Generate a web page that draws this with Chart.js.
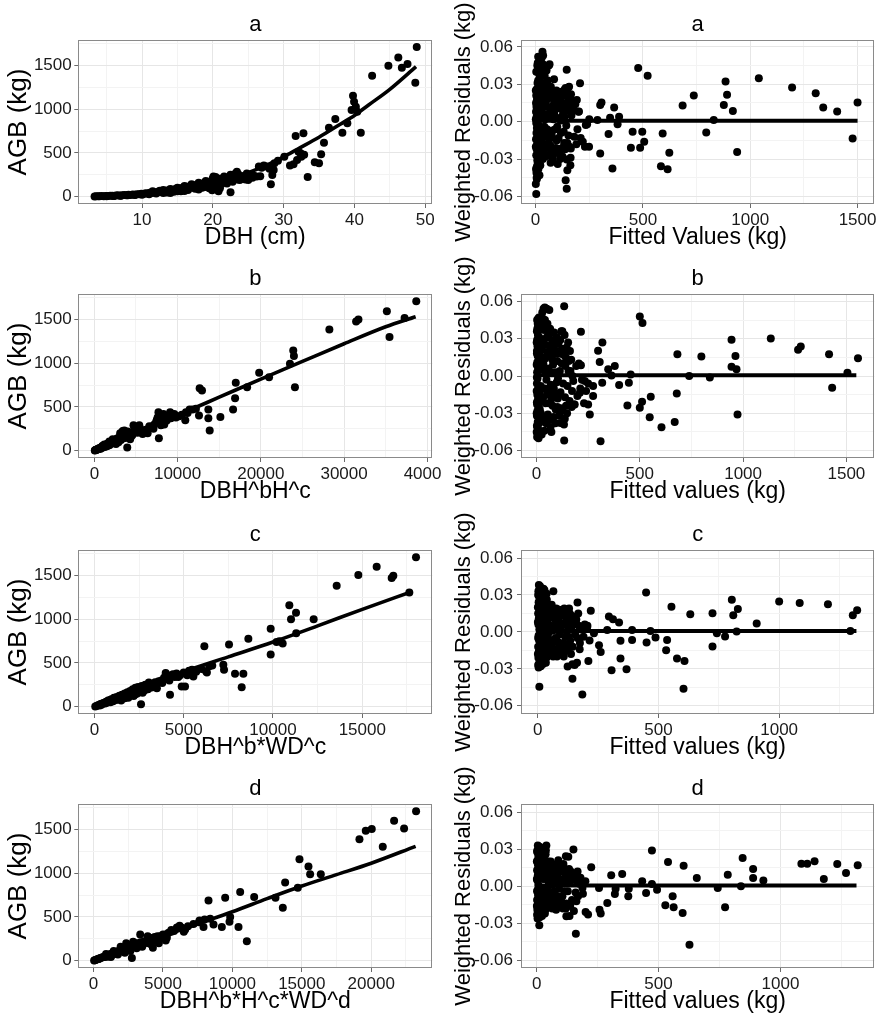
<!DOCTYPE html>
<html>
<head>
<meta charset="utf-8">
<script src="https://cdn.jsdelivr.net/npm/chart.js@4.4.1/dist/chart.umd.min.js"></script>
<style>
html,body{margin:0;padding:0;background:#fff;}
body{width:883px;height:1024px;position:relative;overflow:hidden;}
canvas{position:absolute;}
</style>
</head>
<body>
<script>
// ---------------- DATA ----------------
const panelTitles = ['a', 'b', 'c', 'd'];
const leftXTitles = ['DBH (cm)', 'DBH^bH^c', 'DBH^b*WD^c', 'DBH^b*H^c*WD^d'];
const rightXTitles = ['Fitted Values (kg)', 'Fitted values (kg)', 'Fitted values (kg)', 'Fitted values (kg)'];
const leftYTitle = 'AGB (kg)';
const rightYTitle = 'Weighted Residuals (kg)';

// Panel a (left): DBH (cm) vs AGB (kg)
const aObs = [
  [48.8,1714],[46.2,1595],[44.8,1500],[47.5,1519],[46.7,1477],[48.6,1305],[42.5,1385],[39.8,1156],[39.95,1088],[40.2,1030],
  [39.6,992],[40.4,973],[40.9,733],[37.3,889],[36.4,790],[38.3,733],[39.0,840],[35.7,618],[35.3,485],[34.4,393],
  [35.0,382],[33.4,225],[32.8,725],[31.7,695],[32.4,496],[31.9,420],[30.9,355],[32.5,458],[28.6,305],[28.4,248],
  [28.2,141],[28.7,382],[27.2,355],[26.7,233],[26.5,344],[29.2,412],[30.1,458],[22.5,50],[23.4,286],[20.1,229],
  [31.4,372],[32.1,515],[32.9,480],[26.9,330],[27.6,345],[28.0,320],[25.8,240],[25.2,225],[24.6,195],[24.0,210],[23.8,190],
  [3.3,2],[3.5,4],[3.8,3],[4.0,5],[4.3,6],[4.6,5],[4.9,8],[5.2,7],[5.5,9],[5.8,11],[6.0,8],[6.3,12],[6.6,14],[6.9,11],
  [7.2,16],[7.5,18],[7.8,15],[8.1,21],[8.4,19],[8.7,25],[9.0,22],[9.3,28],[9.6,26],[9.9,33],[10.2,30],[10.5,38],[10.8,35],
  [11.1,44],[11.4,40],[11.7,50],[12.0,46],[12.3,56],[12.6,52],[12.9,62],[13.2,58],[13.5,70],[13.8,64],[14.1,78],[14.4,72],
  [14.7,86],[15.0,60],[15.2,95],[15.5,82],[15.8,104],[16.1,90],[16.4,112],[16.7,98],[17.0,122],[17.3,105],[17.6,132],
  [17.9,115],[18.2,145],[18.5,125],[18.8,158],[19.1,135],[19.4,170],[19.7,148],[20.0,185],[20.3,160],[20.6,200],[20.9,175],
  [21.2,140],[21.5,190],[21.8,215],[22.1,180],[22.4,228],[22.7,200],[23.0,240],[23.3,215],[23.6,255],[24.2,230],[24.8,265],
  [25.4,250],[19.5,95],[20.5,110],[18.0,80],[16.0,65],[14.0,40],[20.8,60],[21.0,95],[19.9,72],
  [10.0,20],[11.0,28],[12.0,35],[13.0,40],[13.5,48],[14.5,55],[15.5,62],[16.5,75],[17.5,90],[18.5,100],[19.0,110],[19.8,120],
  [20.2,135],[20.7,150],[21.3,165],[21.7,170],[22.0,150],[22.8,170],[23.5,195],[24.4,205],[25.0,190],[25.6,215],[26.2,230],
  [11.5,60],[12.5,68],[13.0,75],[14.0,88],[15.0,100],[16.0,120],[17.0,140],[18.0,160],[19.0,180],[20.0,210],[20.4,225],
  [21.0,205],[21.6,230],[22.5,250],[23.2,265],[24.5,240],[7,10],[8,14],[9,18],[6,6],[5,5]
];
const aFit = [[3.3,2],[5,6],[8,18],[10,32],[12,50],[15,85],[18,130],[20,165],[22,205],[25,275],[28,375],[30,455],[32,545],[35,680],[38,830],[40,930],[42,1050],[45,1230],[48.7,1490]];

// Panel b (left): DBH^bH^c vs AGB
const bObs = [
  [38674,1711],[35140,1596],[37270,1519],[31726,1504],[31445,1481],[35460,1301],[28233,1389],[23895,1148],[23975,1083],[23500,995],
  [24096,727],[20990,842],[19800,892],[18353,727],[16988,777],[16907,601],[16666,471],[12650,716],[12930,689],[12570,402],
  [13694,471],[13694,371],[13855,230],[15140,386],[10923,348],[11445,471],[9437,402],[7750,142],[3950,35],
  [7430,330],[7600,380],[7800,410],[8100,360],[8400,300],[9000,385],[9600,420],[10200,395],[11200,430],[6000,230],[6500,250],
  [5400,290],[5000,270],[4800,250],[4400,200],[4200,165],[3900,180],[3600,215],[3400,190],[3300,150],[3000,120],[2700,135],
  [2500,110],[2200,95],[2000,80],[1800,105],[1600,70],[1400,60],[1200,55],[1000,40],[800,35],[600,25],[400,15],[250,10],
  [100,3],[150,6],[350,12],[700,30],[900,45],[1100,48],[1300,65],[1500,75],[1700,62],[1900,90],[2100,110],[2300,85],
  [2600,100],[2800,115],[3100,140],[3200,175],[3500,160],[3700,145],[3800,200],[4300,130],[4600,185],[5200,205],[5600,215],
  [5800,190],[6200,240],[6800,260],[7000,280],[7200,300],[7900,320],[8700,345],[9200,370],[9800,380],[10500,410],[11000,440],
  [11800,470],[12200,480],[50,1],[200,8],[450,20],[550,18],[650,28],[750,22],[850,38],[950,33],[1050,52],[1250,42],[1450,68],
  [1650,85],[1850,72],[2400,120],[2900,95],[3300,205],[4000,220],[4500,170],[5500,250],[6400,200],[7500,350],[8000,290],
  [500,25],[1000,55],[1500,50],[2000,100],[2500,90],[3000,150],[3500,190],[4000,170],[3200,120],[2800,140],[3600,230],
  [3400,225],[3800,165],[4800,220],[5300,230],[6600,280],[7100,250],[1200,70],[1800,60],[2200,130],[2600,75],[3100,200],
  [3700,175],[4200,200],[4700,290],[7700,440],[8300,420],[9100,440]
];
const bFit = [[0,0],[2000,85],[5000,205],[10000,405],[15000,612],[20000,820],[25000,1022],[30000,1225],[35000,1420],[38600,1535]];

// Panel c (left): DBH^b*WD^c vs AGB
const cObs = [
  [18007,1712],[15805,1604],[14779,1508],[16738,1500],[16645,1473],[17634,1308],[13566,1385],[10916,1162],[11290,1077],[11010,1000],
  [12278,1000],[9871,892],[9871,596],[10356,750],[10543,723],[8621,777],[7539,712],[6158,692],[7221,481],[7259,423],
  [7875,377],[8341,377],[8248,223],[6251,404],[6438,462],[5542,346],[5467,423],[4889,231],[5076,231],[4273,346],
  [4235,135],[2612,27],[3993,385],[11300,840],[10200,740],
  [50,2],[120,8],[200,15],[280,20],[350,30],[420,33],[500,42],[580,45],[650,55],[720,60],[800,72],[880,68],[950,85],
  [1020,80],[1100,100],[1180,92],[1250,110],[1330,105],[1400,125],[1480,118],[1550,135],[1620,110],[1700,150],[1780,140],
  [1850,165],[1920,130],[2000,180],[2080,160],[2150,200],[2230,175],[2300,215],[2380,190],[2450,225],[2550,200],[2650,235],
  [2750,215],[2850,250],[2950,230],[3050,275],[3150,250],[3300,260],[3450,240],[3600,290],[3750,300],[3900,330],[4100,360],
  [4400,370],[4600,380],[4700,340],[5200,360],[5300,410],[5700,400],[6000,430],[6300,390],[6600,470],[900,50],[1300,80],
  [1700,95],[2100,130],[2500,180],[1500,70],[2200,120],[600,35],[300,12],[700,45],[1050,62],[1900,100],[2700,160],
  [3000,200],[3500,210],
  [400,20],[800,55],[1200,75],[1600,100],[2000,140],[2400,150],[2800,185],[3200,220],[1400,90],[1800,120],[2200,160],
  [2600,195],[3000,240],[3400,280],[3800,270],[4200,300],[4500,340],[4800,360],[5000,390],[5500,380],[1000,70],[1600,130],
  [2300,140],[2900,210]
];
const cFit = [[0,0],[1000,90],[2500,210],[5000,400],[7500,570],[10000,740],[12500,925],[15000,1115],[17800,1320]];

// Panel d (left): DBH^b*H^c*WD^d vs AGB
const dObs = [
  [23232,1711],[21648,1603],[22368,1515],[20040,1507],[19608,1488],[19152,1392],[20832,1304],[14832,1162],[15480,1078],[15600,990],
  [16368,990],[13800,894],[13632,606],[13104,721],[14712,836],[11568,729],[10560,786],[9480,721],[8280,690],[9840,499],
  [9792,445],[9240,384],[10440,384],[11040,222],[8640,414],[7920,384],[7632,460],[6600,357],[6360,376],[5280,261],
  [4272,146],[2760,31],[3360,299],
  [40,1],[100,5],[180,9],[260,14],[340,18],[420,25],[500,30],[600,34],[700,42],[800,48],[900,52],[1000,60],[1100,66],
  [1200,72],[1300,78],[1400,83],[1500,90],[1600,85],[1700,102],[1800,95],[1900,115],[2000,108],[2100,130],[2200,120],
  [2300,145],[2400,135],[2500,160],[2600,150],[2700,175],[2800,165],[2900,190],[3000,180],[3200,200],[3400,210],[3600,190],
  [3800,230],[4000,250],[4200,220],[4400,270],[4600,240],[4800,255],[5000,300],[5400,320],[5600,350],[5800,340],[6000,380],
  [6200,400],[6500,330],[6800,395],[7200,420],[7600,440],[8000,470],[8400,480],[1250,40],[1750,70],[2250,90],[2650,110],
  [3100,140],[3500,160],[3900,280],[4100,190],[4700,200],[5200,230],[900,75],[1450,110],[1950,160],[2350,200],[2850,215],
  [400,20],[800,40],[1200,60],[1600,95],[2000,125],[2400,150],[2800,180],[3200,170],[3600,215],[4000,200],[4400,230],
  [4800,280],[5200,300],[5600,330],[1000,45],[1400,70],[1800,110],[2200,135],[2600,120],[3000,200],[3400,190],[3800,210],
  [4200,260],[4600,280]
];
const dFit = [[0,0],[1000,62],[2500,145],[5000,280],[7500,420],[10000,560],[12500,710],[15000,855],[17500,985],[20000,1116],[23200,1310]];

// Panel a (right): fitted values vs weighted residuals
const aRes = [
  [478,0.043],[522,0.0368],[685,0.0129],[737,0.0209],[885,0.0322],[877,0.0134],[892,0.0215],[919,0.0086],[1040,0.0349],[1195,0.0274],
  [1305,0.0228],[1340,0.0113],[1405,0.0081],[1500,0.0153],[1477,-0.0134],[830,0.0013],[795,-0.0086],[939,-0.0244],[623,-0.025],[615,-0.0381],
  [584,-0.0357],[592,-0.0094],[497,-0.0081],[506,-0.0161],[487,-0.0209],[452,-0.0081],[444,-0.0209],[358,-0.0376],[301,-0.0255],[340,-0.0099],
  [366,0.0113],[347,0.0032],[389,0.004],[382,-0.0021],[301,0.0134],[307,0.0153],[288,0.0013],[234,-0.0027],[249,-0.0201],[207,0.0309],
  [202,0.0081],[192,0.0174],[145,0.0416],[140,-0.047],[145,-0.0537],[148,-0.0389],[145,-0.0303],[164,-0.0215],
  [3,-0.058],[5,-0.045],[4,-0.041],[6,-0.036],[8,-0.031],[3,-0.027],[5,-0.022],[7,-0.018],[2,-0.014],[4,-0.009],[6,-0.005],
  [3,-0.001],[5,0.004],[7,0.008],[4,0.012],[6,0.017],[3,0.021],[5,0.026],[8,0.019],[9,-0.012],[10,0.047],[12,0.033],[14,0.041],
  [11,-0.024],[13,-0.038],[15,0.009],[16,-0.003],[18,0.029],[20,0.048],[22,0.036],[19,-0.016],[24,0.022],[26,0.044],[28,0.051],
  [30,0.038],[25,-0.029],[32,0.056],[35,0.053],[34,0.046],[37,0.031],[40,0.027],[38,0.013],[42,0.037],[45,0.024],[33,-0.008],
  [36,-0.019],[41,-0.004],[44,0.002],[48,-0.012],[50,0.017],[52,0.006],[55,0.021],[58,-0.027],[60,-0.021],[62,0.045],[65,0.046],
  [68,0.008],[70,-0.033],[72,0.019],[75,-0.011],[78,0.024],[80,-0.03],[83,0.002],[85,0.014],[88,-0.024],[90,0.022],[92,-0.006],
  [95,0.016],[98,-0.015],[100,0.023],[103,-0.034],[106,0.011],[110,0.003],[112,-0.026],[115,0.018],[118,-0.009],[120,0.024],
  [124,-0.021],[126,0.005],[130,0.021],[133,-0.017],[136,0.026],[140,0.027],[143,-0.003],[146,0.009],[150,0.023],[153,-0.011],
  [156,0.028],[160,0.012],[163,-0.029],[167,0.005],[170,0.017],[175,0.009],[180,-0.012],[185,0.014],[190,-0.018],[195,-0.006],
  [200,0.008],[210,-0.013],[220,-0.016],[230,-0.02],[240,-0.002],[250,0.002],[18,-0.043],[22,-0.035],[27,0.012],[46,-0.028],
  [57,0.033],[64,-0.014],[86,0.034],[108,-0.022],[12,0.052],[16,0.026],[29,-0.02],[1,0.002],[2,0.015],[9,0.031],[7,-0.04],[6,-0.046],
  [1,-0.05],[2,-0.038],[1,-0.02],[2,0.008],[1,0.025],[3,0.04],[8,0.045],[10,-0.033],[11,0.014],[13,0.02],[14,-0.007],[15,-0.028],
  [17,0.038],[19,0.005],[20,-0.035],[21,0.016],[23,-0.01],[24,0.044],[26,-0.02],[27,0.03],[29,0.009],[31,-0.013],[32,0.02],
  [34,-0.03],[36,0.039],[38,-0.025],[39,0.004],[43,0.015],[47,0.03],[49,-0.018],[51,0.041],[53,-0.006],[56,0.012],[59,0.026],
  [61,-0.01],[63,0.003],[66,0.02],[69,-0.019],[71,0.028],[73,-0.024],[76,0.009],[79,-0.007],[82,0.019],[84,-0.026],[87,0.007],
  [91,0.012],[94,-0.021],[97,0.025],[101,-0.004],[104,0.02],[107,-0.013],[111,0.015],[114,-0.03],[117,0.001],[121,0.01],
  [125,-0.028],[128,0.013],[131,-0.008],[135,0.004],[138,-0.022],[142,0.015],[148,-0.017],[152,0.019],[158,-0.02],[162,-0.035],[165,0.022]
];
const aResFit = [[8,0.0007],[1500,0.0007]];

// Panel b (right)
const bRes = [
  [1556,0.0143],[1505,0.0027],[1416,0.0175],[1431,-0.0094],[1279,0.0237],[1266,0.021],[1134,0.0301],[944,0.0291],[963,0.0161],[944,0.0075],
  [968,0.0054],[973,-0.0309],[839,-0.0013],[798,0.0156],[739,0],[682,0.0175],[679,-0.014],[669,-0.0369],[605,-0.0412],[548,-0.0331],
  [553,-0.0167],[511,-0.0207],[500,-0.0256],[500,0.0479],[513,0.0425],[440,-0.0237],[447,-0.0054],[456,0.0013],[400,-0.0073],[379,0.0081],
  [347,0.0054],[363,0.0005],[319,0.0269],[298,0.0202],[306,0.0113],[310,-0.0525],[318,-0.0054],[274,-0.0081],[274,-0.0161],[250,-0.0229],
  [258,-0.0309],[215,0.0355],[215,0.0086],[234,-0.004],[210,-0.0135],[182,-0.0229],[174,0],[134,-0.0519],[134,0.056],[137,-0.0344],
  [116,-0.0377],[124,0.0355],
  [3,-0.049],[5,-0.046],[4,-0.041],[6,-0.037],[2,-0.032],[5,-0.028],[3,-0.023],[7,-0.019],[4,-0.015],[6,-0.011],[2,-0.006],
  [5,-0.002],[3,0.003],[7,0.007],[4,0.011],[6,0.016],[2,0.02],[5,0.024],[3,0.029],[7,0.033],[4,0.038],[6,0.042],[8,0.046],
  [10,-0.05],[12,0.047],[14,0.031],[16,-0.027],[18,0.012],[20,-0.008],[22,0.044],[24,0.021],[26,-0.036],[28,0.051],[30,0.005],
  [32,-0.017],[34,0.054],[36,0.026],[38,-0.044],[40,0.055],[42,0.014],[44,-0.022],[46,0.038],[48,-0.003],[50,0.054],[52,0.019],
  [55,-0.031],[58,0.033],[60,-0.012],[62,0.053],[65,0.024],[68,-0.041],[70,0.003],[72,-0.045],[75,0.029],[78,-0.024],[80,0.009],
  [83,-0.033],[85,0.035],[88,-0.015],[90,0.018],[93,-0.027],[95,0.026],[98,-0.005],[100,0.012],[103,-0.018],[106,0.026],[110,-0.032],
  [113,0.004],[116,-0.013],[120,0.036],[123,0.022],[126,-0.028],[130,0.017],[133,-0.039],[136,0.033],[140,0.008],[143,-0.024],
  [146,0.023],[150,-0.008],[153,0.027],[156,0.012],[160,-0.02],[164,0.004],[168,0.013],[172,-0.012],[178,-0.004],[185,-0.023],
  [192,0.008],[198,-0.016],[205,0.01],[212,-0.01],[220,-0.003],[230,-0.022],[240,-0.012],[250,-0.006],
  [1,-0.045],[2,-0.04],[1,-0.03],[2,-0.021],[1,-0.012],[2,-0.001],[1,0.009],[2,0.018],[1,0.027],[2,0.036],[3,0.045],[9,0.04],
  [9,-0.043],[11,-0.025],[12,0.006],[13,-0.038],[15,0.019],[17,-0.012],[19,0.041],[21,-0.03],[23,0.028],[25,-0.047],[27,0.015],
  [29,-0.02],[31,0.046],[33,0.01],[35,-0.034],[37,0.037],[39,-0.01],[41,0.045],[43,0.003],[45,0.025],[47,-0.038],[49,0.031],
  [51,-0.015],[53,0.042],[56,0.006],[59,-0.022],[61,0.016],[63,-0.035],[66,0.038],[69,-0.007],[71,0.021],[74,-0.018],[77,0.013],
  [81,0.027],[84,-0.01],[87,0.021],[91,-0.038],[94,0.003],[97,0.031],[101,-0.025],[104,-0.002],[108,0.018],[111,-0.014],
  [115,0.029],[118,-0.026],[122,0.01],[125,0.036],[129,-0.006],[132,0.02],[138,-0.017],[142,0.015],[148,-0.03],[155,0.004],
  [162,0.02],[170,-0.025]
];
const bResFit = [[5,0.0007],[1548,0.0007]];

// Panel c (right)
const cRes = [
  [1323,0.0176],[1305,0.0136],[1295,0.0008],[1202,0.0225],[1085,0.0234],[1000,0.0247],[907,0.0068],[824,0.0003],[829,0.0185],[810,0.0136],
  [804,0.0261],[776,-0.0038],[742,-0.0011],[724,-0.0119],[724,0.0152],[632,0.0144],[608,-0.0236],[604,-0.0462],[577,-0.0217],[532,-0.0149],
  [536,-0.0065],[554,0.0204],[488,-0.0046],[467,0.0008],[451,-0.0087],[449,0.032],[391,0.0016],[391,-0.0065],[368,-0.0304],[343,-0.0217],
  [337,0.0076],[343,-0.0073],[312,0.0103],[295,0.0125],[306,-0.0312],[288,0.0016],[254,-0.0109],[261,-0.0163],[233,-0.0011],[210,-0.0236],
  [220,0.0171],[206,0.0049],[185,-0.0508],[144,-0.038],[165,0.0239],[174,-0.0141],[124,-0.0282],[144,-0.0263],[7,-0.0445],
  [5,0.038],[10,0.037],[3,0.033],[7,0.028],[4,0.024],[6,0.019],[2,0.015],[5,0.011],[3,0.006],[7,0.002],[4,-0.003],[6,-0.007],
  [2,-0.012],[5,-0.016],[3,-0.021],[7,-0.025],[4,-0.029],[12,0.027],[14,-0.018],[16,0.021],[18,-0.01],[20,0.014],[22,-0.026],
  [24,0.035],[26,0.005],[28,-0.015],[30,0.028],[32,-0.003],[34,0.018],[36,-0.021],[38,0.026],[40,0.008],[42,-0.012],[44,0.016],
  [46,-0.006],[48,0.021],[50,0.003],[53,-0.018],[56,0.012],[59,-0.009],[62,0.019],[65,0.033],[68,-0.014],[71,0.01],[74,-0.005],
  [77,0.019],[80,-0.02],[83,0.007],[86,-0.013],[89,0.018],[92,-0.002],[95,0.013],[98,-0.017],[102,0.006],[106,-0.009],[110,0.019],
  [114,-0.004],[118,0.011],[122,-0.015],[126,0.004],[130,0.019],[135,-0.007],[140,0.013],[145,-0.012],[150,0.007],[155,-0.002],
  [160,0.01],[165,-0.005],[170,0.005],[175,-0.009],[180,0.002],[190,-0.004],[195,0.006],[205,0.004],[215,-0.007],[9,-0.022],
  [11,0.03],[13,-0.028],[15,0.009],[17,0.032],[19,-0.024],[21,0.02],[23,-0.006],[27,0.024],[29,-0.022],[31,0.017],[33,0.009],
  [35,-0.014],[37,0.031],[39,-0.006],[45,0.012],[52,-0.011],[58,0.022],[64,-0.02],[70,0.017],[76,0.003],
  [1,0.02],[2,0.03],[1,0.008],[2,-0.005],[1,-0.018],[2,-0.027],[8,0.035],[8,-0.012],[10,0.012],[12,-0.02],[13,0.016],[14,0.025],
  [16,-0.007],[18,0.03],[20,-0.018],[22,0.01],[24,-0.013],[26,0.02],[28,0.034],[30,-0.01],[32,0.013],[34,-0.025],[36,0.007],
  [38,-0.017],[41,0.022],[43,-0.002],[47,0.016],[49,-0.015],[51,0.018],[54,0.005],[57,-0.016],[60,0.017],[63,0.001],[66,-0.008],
  [69,0.015],[72,-0.018],[75,0.012],[78,0.005],[81,0.015],[84,-0.008],[87,0.009],[90,-0.015],[94,0.016],[97,0.004],[100,-0.012],
  [104,0.017],[108,-0.02],[112,0.007],[116,0.014],[120,-0.01],[124,0.009],[128,-0.004],[133,0.015],[138,-0.018],[143,0.005],
  [148,0.012],[153,-0.027],[158,0.008],[163,-0.025],[168,0.015]
];
const cResFit = [[5,0.0007],[1320,0.0007]];

// Panel d (right)
const dRes = [
  [1317,0.017],[1269,0.0108],[1233,0.0181],[1178,0.0059],[1140,0.0202],[1110,0.0183],[1086,0.0183],[930,0.0046],[888,0.0067],[888,0.014],
  [845,0.0229],[838,0],[784,0.0094],[773,-0.017],[743,-0.0013],[657,0.0067],[599,-0.0216],[603,0.0167],[627,-0.0472],[562,-0.017],
  [558,-0.0081],[528,-0.0154],[539,0.0197],[494,-0.0027],[473,0.0019],[473,0.0289],[449,-0.0054],[433,0.004],[376,-0.0081],[378,-0.0019],
  [351,0.01],[324,-0.0019],[321,-0.0062],[306,0.0089],[290,-0.0135],[258,-0.0189],[263,-0.0221],[256,-0.0013],[224,0.0154],[211,-0.0229],
  [201,-0.0208],[188,-0.0013],[151,0.0297],[161,-0.0383],[120,0.0243],[122,-0.0243],[11,-0.0316],
  [5,0.033],[12,0.032],[3,0.029],[7,0.025],[4,0.021],[6,0.017],[2,0.013],[5,0.009],[3,0.005],[7,0.001],[4,-0.003],[6,-0.007],
  [2,-0.011],[5,-0.015],[3,-0.019],[7,-0.023],[4,-0.026],[10,0.027],[14,-0.016],[16,0.022],[18,-0.009],[20,0.015],[22,-0.024],
  [24,0.031],[26,0.006],[28,-0.014],[30,0.024],[32,-0.002],[34,0.017],[36,-0.019],[38,0.029],[40,0.033],[42,-0.011],[44,0.014],
  [46,-0.005],[48,0.02],[50,0.003],[53,-0.017],[56,0.011],[59,-0.008],[62,0.018],[65,0.007],[68,-0.013],[71,0.009],[74,-0.004],
  [77,0.017],[80,-0.019],[83,0.006],[86,-0.012],[89,0.021],[92,-0.002],[95,0.012],[98,-0.016],[102,0.005],[106,-0.008],[110,0.018],
  [114,-0.004],[118,0.01],[122,-0.014],[126,0.004],[130,0.024],[135,-0.024],[140,0.012],[145,-0.011],[150,0.006],[155,0.009],
  [160,-0.005],[165,0.004],[170,-0.008],[175,0.002],[180,0.007],[190,-0.006],[200,0.004],[9,-0.02],[11,0.019],[13,-0.025],
  [15,0.008],[17,0.028],[19,-0.021],[21,0.012],[23,-0.005],[27,0.022],[29,-0.02],[31,0.016],[33,0.008],[35,-0.013],[37,0.026],
  [39,-0.005],[45,0.01],[52,-0.01],[58,0.02],[64,-0.018],[88,0.004],[120,-0.018],[147,0.008],
  [1,0.02],[2,0.028],[1,0.006],[2,-0.004],[1,-0.016],[2,-0.023],[8,0.03],[8,-0.011],[10,0.01],[12,-0.019],[13,0.015],[14,0.026],
  [16,-0.006],[18,0.027],[20,-0.016],[22,0.009],[24,-0.012],[26,0.019],[28,0.03],[30,-0.009],[32,0.012],[34,-0.022],[36,0.006],
  [38,-0.016],[41,0.02],[43,-0.002],[47,0.015],[49,-0.014],[51,0.017],[54,0.005],[57,-0.015],[60,0.015],[63,0.001],[66,-0.007],
  [69,0.014],[72,-0.017],[75,0.011],[78,0.004],[81,0.014],[84,-0.008],[87,0.008],[90,-0.014],[94,0.015],[97,0.003],[100,-0.011],
  [104,0.016],[108,-0.018],[112,0.006],[116,0.013],[120,0.004],[124,0.008],[128,-0.004],[133,0.014],[138,-0.016],[143,0.005],
  [148,0.01],[153,-0.02],[158,0.007],[163,-0.012],[168,0.012]
];
const dResFit = [[5,0.0007],[1312,0.0007]];

// axis ranges and major tick steps
const leftXRange = [[1.0, 51.0], [-1930, 40600], [-900, 18920], [-1100, 24400]];
const leftXStep = [10, 10000, 5000, 5000];
const leftYRange = [-85, 1795];
const leftYStep = 500;
const rightXRange = [[-68, 1578], [-75, 1635], [-69, 1394], [-64, 1385]];
const rightXStep = 500;
const rightYRange = [[-0.066, 0.0655], [-0.0659, 0.0659], [-0.0667, 0.0665], [-0.0661, 0.0666]];
const rightYStep = 0.03;

// ---------------- DRAWING ----------------
const FONT = '"Liberation Sans", Arial, sans-serif';
Chart.defaults.font.family = FONT;
const rowTops = [0, 254.3, 509.7, 764];

function ticksFor(min, max, major) {
  const h = major / 2, out = [];
  for (let k = Math.ceil(min / h - 1e-9); k * h <= max + 1e-9; k++) {
    out.push({ value: k * h, major: k % 2 === 0 });
  }
  return out;
}
const intFmt = v => String(Math.round(v));
const resFmt = v => (Math.round(v * 1000) / 1000).toFixed(2);

const borderPlugin = {
  id: 'panelBorder',
  afterDraw(chart) {
    const a = chart.chartArea, ctx = chart.ctx;
    ctx.save();
    ctx.strokeStyle = '#8a8a8a';
    ctx.lineWidth = 1;
    ctx.strokeRect(Math.round(a.left) + 0.5, Math.round(a.top) + 0.5,
                   Math.round(a.right - a.left) - 1, Math.round(a.bottom - a.top) - 1);
    ctx.restore();
  }
};

const gridColor = c => (c.tick && c.tick.major) ? '#e6e6e6' : '#f3f3f3';
const tickColor = c => (c.tick && c.tick.major) ? '#6a6a6a' : 'rgba(0,0,0,0)';

function makePanel(o) {
  const cv = document.createElement('canvas');
  cv.width = o.w; cv.height = 256;
  cv.style.left = o.left + 'px';
  cv.style.top = o.top + 'px';
  cv.style.width = o.w + 'px';
  cv.style.height = '256px';
  document.body.appendChild(cv);
  const pts = o.points.map(p => ({ x: p[0], y: p[1] }));
  const fit = o.fit.map(p => ({ x: p[0], y: p[1] }));
  const tickFont = { family: FONT, size: 17 };
  new Chart(cv, {
    type: 'scatter',
    data: {
      datasets: [
        { data: fit, showLine: true, borderColor: '#000', borderWidth: o.lineWidth, pointRadius: 0,
          fill: false, cubicInterpolationMode: 'monotone', order: 0 },
        { data: pts, pointRadius: 4, pointBackgroundColor: '#000', backgroundColor: '#000',
          pointBorderWidth: 0, borderWidth: 0, order: 1 }
      ]
    },
    options: {
      responsive: false,
      animation: false,
      events: [],
      layout: { padding: { left: 0, right: o.padRight, top: 0, bottom: 0 } },
      plugins: {
        legend: { display: false },
        tooltip: { enabled: false },
        title: { display: true, text: o.title, fullSize: false, color: '#000',
                 font: { family: FONT, size: 22, weight: 'normal' }, padding: { top: 11.8, bottom: 1.8 } }
      },
      scales: {
        x: {
          type: 'linear', min: o.xr[0], max: o.xr[1],
          afterBuildTicks: s => { s.ticks = ticksFor(o.xr[0], o.xr[1], o.xStep); },
          afterFit: s => { s.height = 52; s.paddingLeft = 0; s.paddingRight = 0; },
          ticks: { autoSkip: false, maxRotation: 0, minRotation: 0, padding: 2, color: '#1a1a1a', font: tickFont,
                   callback: (v, i, t) => (t[i] && t[i].major) ? o.xFmt(v) : '' },
          grid: { color: gridColor, lineWidth: 1, tickLength: 4, tickColor: tickColor, drawTicks: true },
          border: { display: false },
          title: { display: true, text: o.xTitle, color: '#000', font: { family: FONT, size: 23 },
                   padding: { top: 0, bottom: 4.7 } }
        },
        y: {
          type: 'linear', min: o.yr[0], max: o.yr[1],
          afterBuildTicks: s => { s.ticks = ticksFor(o.yr[0], o.yr[1], o.yStep); },
          afterFit: s => { s.width = o.yW; s.paddingTop = 0; s.paddingBottom = 0; },
          ticks: { autoSkip: false, padding: o.yPad, color: '#1a1a1a', font: tickFont,
                   callback: (v, i, t) => (t[i] && t[i].major) ? o.yFmt(v) : '' },
          grid: { color: gridColor, lineWidth: 1, tickLength: 4, tickColor: tickColor, drawTicks: true },
          border: { display: false },
          title: { display: true, text: o.yTitle, color: '#000', font: { family: FONT, size: o.yTitleSize },
                   padding: { top: o.yTitlePad, bottom: 0 } }
        }
      }
    },
    plugins: [borderPlugin]
  });
}

const leftObs = [aObs, bObs, cObs, dObs];
const leftFits = [aFit, bFit, cFit, dFit];
const rightObs = [aRes, bRes, cRes, dRes];
const rightFits = [aResFit, bResFit, cResFit, dResFit];

for (let r = 0; r < 4; r++) {
  makePanel({
    left: 0, top: rowTops[r], w: 441, padRight: 8.7, yW: 78.3, yPad: 2.6,
    points: leftObs[r], fit: leftFits[r], lineWidth: 3.6,
    xr: leftXRange[r], xStep: leftXStep[r], xFmt: intFmt,
    yr: leftYRange, yStep: leftYStep, yFmt: intFmt,
    title: panelTitles[r], xTitle: leftXTitles[r], yTitle: leftYTitle, yTitleSize: 26, yTitlePad: 3.1
  });
  makePanel({
    left: 441, top: rowTops[r], w: 442, padRight: 8.7, yW: 80, yPad: 4,
    points: rightObs[r], fit: rightFits[r], lineWidth: 4,
    xr: rightXRange[r], xStep: rightXStep, xFmt: intFmt,
    yr: rightYRange[r], yStep: rightYStep, yFmt: resFmt,
    title: panelTitles[r], xTitle: rightXTitles[r], yTitle: rightYTitle, yTitleSize: 22, yTitlePad: 10.1
  });
}
</script>
</body>
</html>
